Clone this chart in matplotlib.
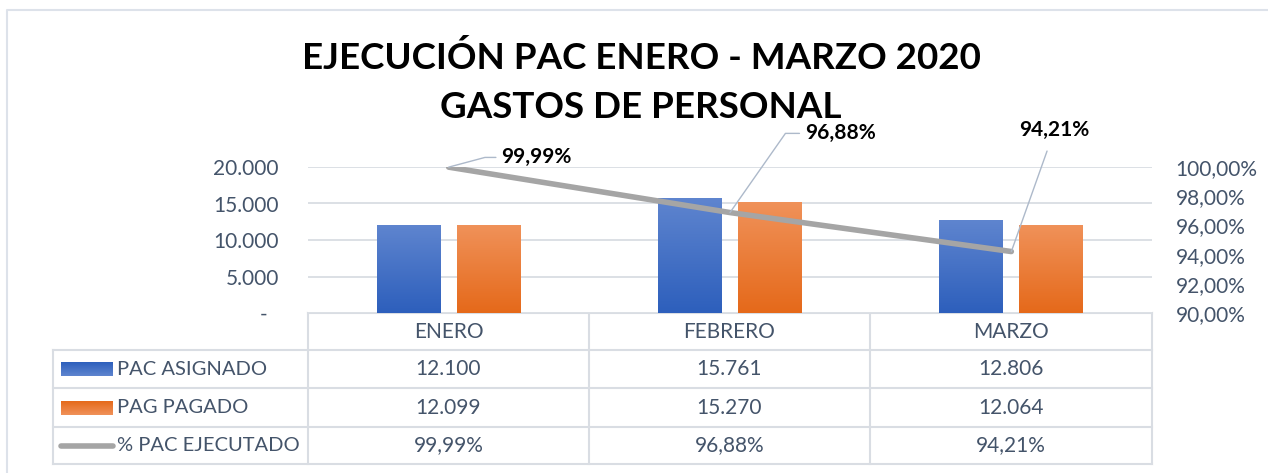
import numpy as np
import matplotlib
matplotlib.use("Agg")
import matplotlib.pyplot as plt
from matplotlib.colors import LinearSegmentedColormap
from matplotlib.transforms import ScaledTranslation

plt.rcParams['font.family'] = ['Lato', 'DejaVu Sans']

# data
months = ['ENERO', 'FEBRERO', 'MARZO']
pac_asignado = [12100, 15761, 12806]
pag_pagado = [12099, 15270, 12064]
pct_ejecutado = [99.99, 96.88, 94.21]
series_names = ['PAC ASIGNADO', 'PAG PAGADO', '% PAC EJECUTADO']
left_ticks = [0, 5000, 10000, 15000, 20000]
right_ticks = [90, 92, 94, 96, 98, 100]

W, H = 1268, 473
txt = '#44546A'
grid_c = '#D9DDE3'


def fmt_int(v):
    return '{:,}'.format(v).replace(',', '.')


def fmt_pct(v):
    return '{:.2f}%'.format(v).replace('.', ',')


fig = plt.figure(figsize=(W / 100, H / 100), dpi=100)

# overlay in pixel coordinates for frame / table
bg = fig.add_axes([0, 0, 1, 1])
bg.set_xlim(0, W)
bg.set_ylim(H, 0)
bg.axis('off')
bg.plot([7, 7, W], [H, 10, 10], color='#DDE2EA', lw=1.5)

# main axes
x0, x1, ytop, ybot = 308, 1152, 167, 313
ax = fig.add_axes([x0 / W, 1 - ybot / H, (x1 - x0) / W, (ybot - ytop) / H])
ax.set_xlim(-0.5, 2.5)
ax.set_ylim(0, 20000)
for s in ax.spines.values():
    s.set_visible(False)
ax.set_yticks(left_ticks)
ax.set_yticklabels([fmt_int(t) if t else '-' for t in left_ticks],
                   fontsize=15, color=txt)
ax.tick_params(axis='y', length=0, pad=21)
ax.tick_params(axis='x', length=0, labelbottom=False)
ax.yaxis.grid(True, color=grid_c, lw=1.3)
ax.set_axisbelow(True)
for lab in ax.get_yticklabels():
    if lab.get_text() == '-':
        lab.set_transform(lab.get_transform() + ScaledTranslation(-8 / 72, 0, fig.dpi_scale_trans))

# bars with vertical gradients
x = np.arange(len(months))
bw = 0.227
off = 0.142
blue_cm = LinearSegmentedColormap.from_list('b', ['#2D5FBC', '#5F85CF'])
orange_cm = LinearSegmentedColormap.from_list('o', ['#E5691A', '#F0925A'])
grad = np.linspace(0, 1, 256).reshape(-1, 1)
for vals, dx, cm in [(pac_asignado, -off, blue_cm), (pag_pagado, off, orange_cm)]:
    bars = ax.bar(x + dx, vals, bw, color=cm(0.5), zorder=2)
    for b in bars:
        im = ax.imshow(grad, cmap=cm, origin='lower', aspect='auto', zorder=2.1,
                       extent=[b.get_x(), b.get_x() + b.get_width(), 0, b.get_height()])
        im.set_clip_path(b)
ax.set_xlim(-0.5, 2.5)
ax.set_ylim(0, 20000)

# secondary axis for percentage line
ax2 = ax.twinx()
ax2.set_ylim(90, 100)
for s in ax2.spines.values():
    s.set_visible(False)
ax2.set_yticks(right_ticks)
ax2.set_yticklabels([fmt_pct(t) for t in right_ticks], fontsize=15, color=txt)
ax2.tick_params(axis='y', length=0, pad=17)
ax2.plot(x, pct_ejecutado, color='#A5A5A5', lw=4, solid_capstyle='round', zorder=3)

# data labels with leader lines (offsets in points)
lbl = dict(fontsize=15, fontweight='bold', color='black', annotation_clip=False)
ax2.annotate(fmt_pct(pct_ejecutado[0]), xy=(x[0], pct_ejecutado[0]), xytext=(38, 7),
             textcoords='offset points', ha='left', va='center',
             arrowprops=dict(arrowstyle='-', color='#ADB9CA', lw=1, shrinkA=2, shrinkB=0,
                             connectionstyle='angle,angleA=0,angleB=15'), **lbl)
ax2.annotate(fmt_pct(pct_ejecutado[1]), xy=(x[1], pct_ejecutado[1]), xytext=(54, 57),
             textcoords='offset points', ha='left', va='center',
             arrowprops=dict(arrowstyle='-', color='#ADB9CA', lw=1, shrinkA=2, shrinkB=0,
                             connectionstyle='angle,angleA=0,angleB=55'), **lbl)
ax2.annotate(fmt_pct(pct_ejecutado[2]), xy=(x[2], pct_ejecutado[2]), xytext=(31, 80),
             textcoords='offset points', ha='center', va='bottom',
             arrowprops=dict(arrowstyle='-', color='#ADB9CA', lw=1, shrinkA=6, shrinkB=0),
             **lbl)

# title
fig.text(641 / W, 1 - 58 / H, 'EJECUCIÓN PAC ENERO - MARZO 2020', ha='center', va='center',
         fontsize=26.5, fontweight='bold', color='black')
fig.text(641 / W, 1 - 108 / H, 'GASTOS DE PERSONAL', ha='center', va='center',
         fontsize=26.5, fontweight='bold', color='black')

# data table
cols = [308, 589, 870, 1152]
rows = [313, 350, 388, 427, 464]
tl = dict(color=grid_c, lw=1.5)
bg.plot([cols[0], cols[-1]], [rows[0], rows[0]], **tl)
for r in rows[1:]:
    bg.plot([53, cols[-1]], [r, r], **tl)
for c in cols:
    bg.plot([c, c], [rows[0], rows[-1]], **tl)
bg.plot([53, 53], [rows[1], rows[-1]], **tl)

for i, m in enumerate(months):
    cx = (cols[i] + cols[i + 1]) / 2
    bg.text(cx, (rows[0] + rows[1]) / 2, m, ha='center', va='center', fontsize=15, color=txt)
    for j, val in enumerate([fmt_int(pac_asignado[i]), fmt_int(pag_pagado[i]),
                             fmt_pct(pct_ejecutado[i])]):
        bg.text(cx, (rows[j + 1] + rows[j + 2]) / 2, val, ha='center', va='center',
                fontsize=15, color=txt)

for j, name in enumerate(series_names):
    cy = (rows[j + 1] + rows[j + 2]) / 2
    if j == 0:
        bg.imshow(grad, cmap=blue_cm, origin='upper', aspect='auto',
                  extent=[61, 113, cy + 7, cy - 7], zorder=2)
    elif j == 1:
        bg.imshow(grad, cmap=orange_cm, origin='upper', aspect='auto',
                  extent=[61, 113, cy + 7, cy - 7], zorder=2)
    else:
        bg.plot([61, 113], [cy, cy], color='#A5A5A5', lw=4, solid_capstyle='round')
    bg.text(117, cy, name, ha='left', va='center', fontsize=14.5, color=txt)
bg.set_xlim(0, W)
bg.set_ylim(H, 0)

fig.savefig('out.png', dpi=100)
